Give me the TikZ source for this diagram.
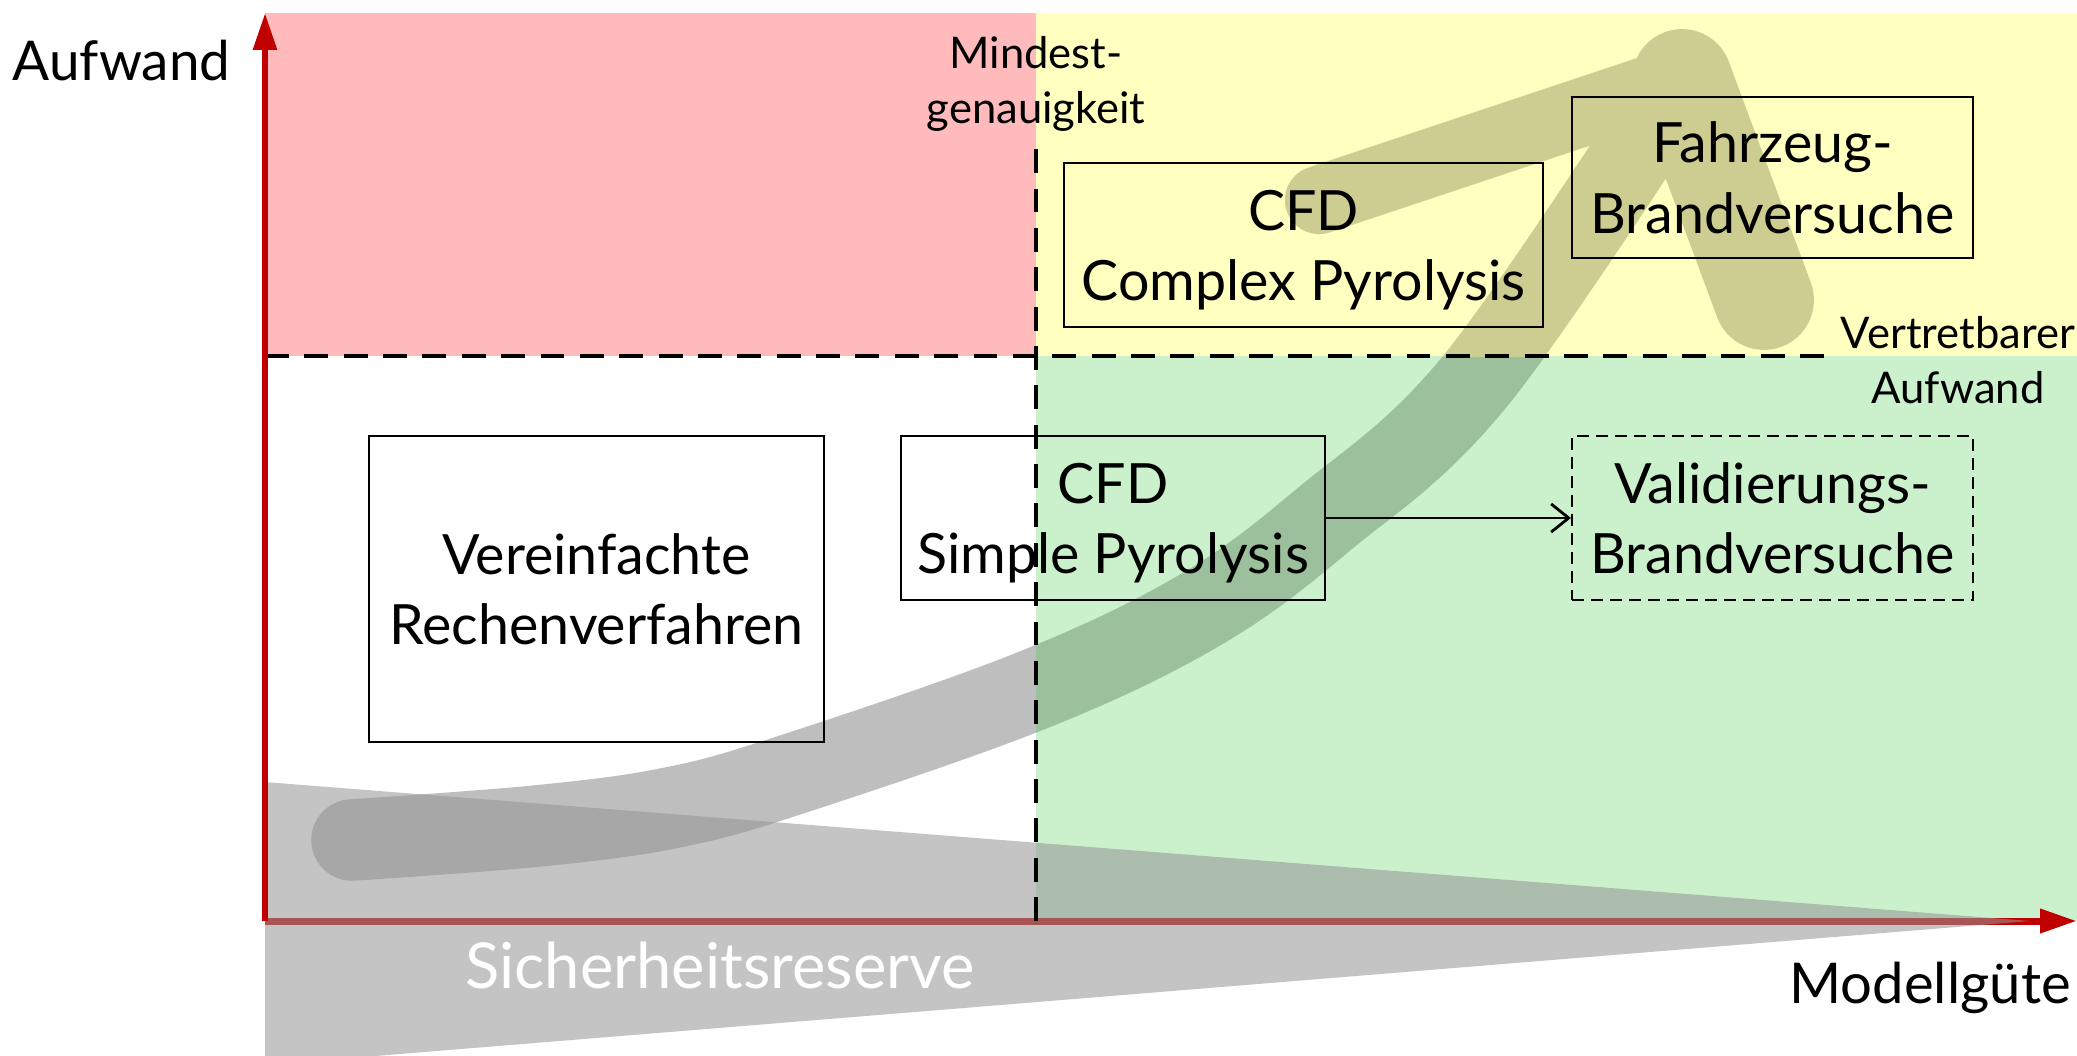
\documentclass[tikz,border=0pt]{standalone}
\usepackage{fontspec}
\setmainfont{Lato}
\usetikzlibrary{arrows.meta}

\definecolor{zonered}{HTML}{FFBBBB}
\definecolor{zoneyellow}{HTML}{FFFFBF}
\definecolor{zonegreen}{HTML}{CBF1CC}
\definecolor{axisred}{HTML}{C00000}
\definecolor{reservegray}{HTML}{979797}
\definecolor{bandonwhite}{HTML}{BEBEBE}
\definecolor{bandongreen}{HTML}{9BC09B}
\definecolor{bandonyellow}{HTML}{CDCD91}

% two centred lines with a fixed first-line height and no last-line depth
\newcommand\twolines[3]{\rule{0pt}{#1}\smash{#2}\\\smash{#3}}

% the wide development arrow, drawn in one colour
\newcommand\devarrow[1]{%
  \draw[#1, line width=23.2pt, line cap=round, line join=round]
    plot[smooth, tension=0.6] coordinates {(352,840) (537,826) (670,808) (790,775)
      (1033,690) (1200,610) (1323,520) (1476,380) (1682,79)};
  \draw[#1, line width=19.4pt, line cap=round] (tip) -- (barbleft);
  \draw[#1, line width=28.4pt, line cap=round] (tip) -- (barbright);
}

\tikzset{
  stagebox/.style={draw, line width=0.6pt, inner sep=0pt, align=center,
    font=\fontsize{15.8}{20}\selectfont},
  plannedbox/.style={stagebox, dash pattern=on 3.4pt off 2pt},
  limitlabel/.style={inner sep=0pt, align=center, anchor=north,
    font=\fontsize{12.4}{15.6}\selectfont},
  axislabel/.style={inner sep=0pt, anchor=base},
  axisline/.style={axisred, -{Triangle[length=10.5pt,width=6.5pt]}},
  limitline/.style={line width=1pt, dash pattern=on 6.8pt off 4.4pt},
}

\begin{document}
\begin{tikzpicture}[x=0.1mm, y=-0.1mm]
\useasboundingbox (0,0) rectangle (2077,1055);

% coordinates of the axes, the limit lines and the arrow head
\coordinate (origin) at (265,921);
\coordinate (xend) at (2077,921);
\coordinate (yend) at (265,13);
\coordinate (acctop) at (1036,143);
\coordinate (accbot) at (1036,921);
\coordinate (effl) at (265,356);
\coordinate (effr) at (1837,356);
\coordinate (tip) at (1682,79);
\coordinate (barbleft) at (1319,200);
\coordinate (barbright) at (1764,300);

% zones
\fill[zonered] (265,13) rectangle (1036,356);
\fill[zoneyellow] (1036,13) rectangle (2077,356);
\fill[zonegreen] (1036,356) rectangle (2077,921);

% development arrow, tinted per zone
\begin{scope}
  \clip (265,356) rectangle (1036,921);
  \devarrow{bandonwhite}
\end{scope}
\begin{scope}
  \clip (1036,356) rectangle (2077,921);
  \devarrow{bandongreen}
\end{scope}
\begin{scope}
  \clip (1036,13) rectangle (2077,356);
  \devarrow{bandonyellow}
\end{scope}

% horizontal axis
\draw[axisline, line width=2pt] (origin) -- (xend);

% safety margin wedge
\fill[reservegray, fill opacity=0.57] (265,782) -- (2030,921) -- (265,1065) -- cycle;

% limit lines
\draw[limitline] (effl) -- (effr);
\draw[limitline] (accbot) -- (acctop);

% methods
\node[stagebox, minimum width=45.5mm, minimum height=30.6mm] (simplified) at (596.5,589)
  {\twolines{11.7pt}{Vereinfachte}{Rechenverfahren}};
\node[stagebox, minimum width=42.4mm, minimum height=16.4mm] (simple) at (1113,518)
  {\twolines{11.7pt}{CFD}{Simple Pyrolysis}};
\node[plannedbox, minimum width=40.1mm, minimum height=16.4mm] (valid) at (1772.5,518)
  {\twolines{11.7pt}{Validierungs-}{Brandversuche}};
\node[stagebox, minimum width=47.9mm, minimum height=16.4mm] (complex) at (1303.5,245)
  {\twolines{11.7pt}{CFD}{Complex Pyrolysis}};
\node[stagebox, minimum width=40.1mm, minimum height=16.1mm] (vehicle) at (1772.5,177.5)
  {\twolines{11.7pt}{Fahrzeug-}{Brandversuche}};

\draw[line width=0.8pt, -{Straight Barb[length=5pt,width=8pt]}] (simple.east) -- (valid.west);

% vertical axis
\draw[axisline, line width=1.7pt] (origin) -- (yend);

% labels
\node[limitlabel] (minacc) at (1036,34) {\twolines{9.6pt}{Mindest-}{genauigkeit}};
\node[limitlabel] (maxeff) at (1958,314) {\twolines{9.6pt}{Vertretbarer}{Aufwand}};
\node[axislabel, font=\fontsize{15.6}{20}\selectfont] (ylabel) at (121.5,80) {Aufwand};
\node[axislabel, font=\fontsize{16}{20}\selectfont] (xlabel) at (1930,1003) {Modellgüte};
\node[axislabel, white, font=\fontsize{18}{22}\selectfont] (reserve) at (720,988) {Sicherheitsreserve};
\end{tikzpicture}
\end{document}
